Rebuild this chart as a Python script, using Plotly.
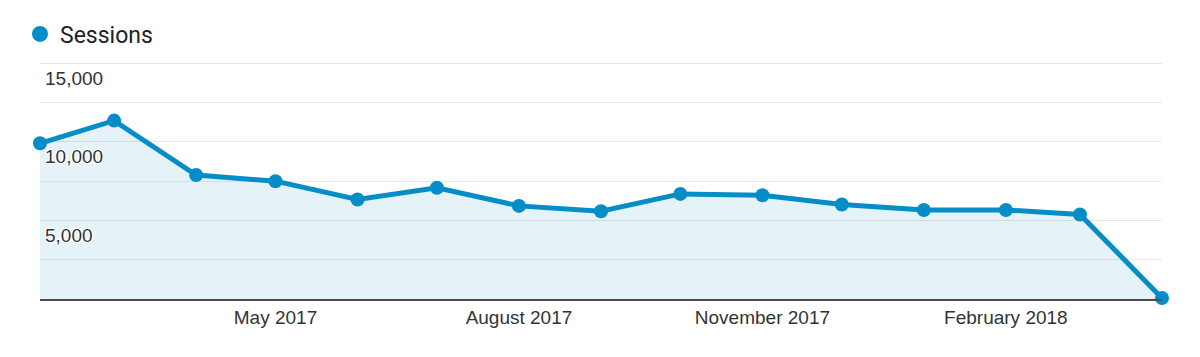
import plotly.graph_objects as go

# ---- data ----
months = ["2017-02-01", "2017-03-01", "2017-04-01", "2017-05-01", "2017-06-01",
          "2017-07-01", "2017-08-01", "2017-09-01", "2017-10-01", "2017-11-01",
          "2017-12-01", "2018-01-01", "2018-02-01", "2018-03-01", "2018-04-01"]
sessions = [9900, 11340, 7880, 7490, 6330, 7070, 5920, 5580, 6680, 6600,
            6010, 5660, 5660, 5370, 60]

x_tick_vals = ["2017-05-01", "2017-08-01", "2017-11-01", "2018-02-01"]
x_tick_text = ["May 2017", "August 2017", "November 2017", "February 2018"]
y_tick_vals = [5000, 10000, 15000]
y_tick_text = ["5,000", "10,000", "15,000"]
series_name = "Sessions"

BLUE = "#058dc7"
FILL = "rgba(5,141,199,0.105)"
# page body has an 8px default margin, so the figure is drawn 8px in
OFF = 8
W, H = 1200 - OFF, 357 - OFF
L, R, T, B = 40 - OFF, 38, 61 - OFF, 58
Y_TOP = 15130

fig = go.Figure()
fig.add_trace(go.Scatter(
    x=months, y=sessions, mode="lines+markers", name=series_name,
    line=dict(color=BLUE, width=5),
    marker=dict(color=BLUE, size=14),
    fill="tozeroy", fillcolor=FILL,
    cliponaxis=False, showlegend=False,
))
# legend entry
fig.add_trace(go.Scatter(
    x=[None], y=[None], mode="markers", name=series_name,
    marker=dict(color=BLUE, size=16), showlegend=True,
))

plot_h = H - T - B
plot_w = W - L - R
tick_font = dict(family="Liberation Sans, Arial, sans-serif", size=19, color="#333333")

# legend target (page px): left edge 20, vertical centre 34
leg_left = 20 - OFF
leg_mid = 34 - OFF

fig.update_layout(
    width=W, height=H,
    margin=dict(l=L, r=R, t=T, b=B, pad=0, autoexpand=False),
    paper_bgcolor="white", plot_bgcolor="white",
    showlegend=True,
    legend=dict(
        x=(leg_left - L) / plot_w, xanchor="left",
        y=(H - B - leg_mid) / plot_h, yanchor="middle",
        font=dict(family="Roboto, sans-serif", size=23, color="#222222"),
        bgcolor="rgba(0,0,0,0)", borderwidth=0,
    ),
    xaxis=dict(
        type="date", range=[months[0], months[-1]],
        tickvals=x_tick_vals, ticktext=x_tick_text,
        tickfont=tick_font, showgrid=False, zeroline=False,
        showline=True, linecolor="#4d4d4d", linewidth=1.5,
        ticks="", ticklabelstandoff=0,
    ),
    yaxis=dict(
        range=[0, Y_TOP], tickvals=y_tick_vals, ticktext=y_tick_text,
        tickfont=dict(**tick_font, shadow="white 1px 1px 0, white -1px -1px 0, white 1px -1px 0, white -1px 1px 0"),
        ticklabelposition="inside", ticklabelshift=15, ticklabelstandoff=2,
        ticklabeloverflow="allow",
        showgrid=True, gridcolor="#e6e6e6", gridwidth=1,
        minor=dict(dtick=2500, showgrid=True, gridcolor="#ebebeb", gridwidth=1),
        zeroline=False, showline=False, ticks="",
        layer="above traces",
    ),
)

fig.write_html("out.html")
